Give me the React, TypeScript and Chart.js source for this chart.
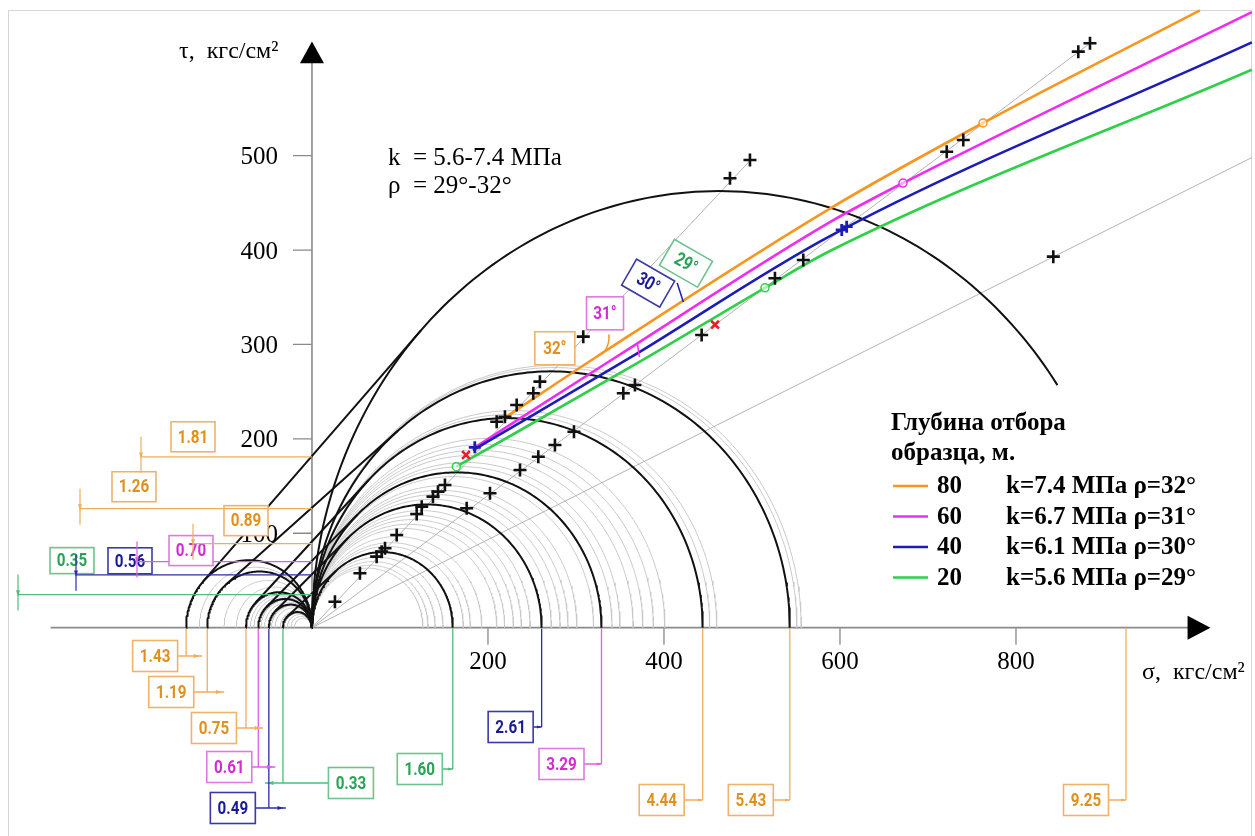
import React, { useEffect, useRef } from "react";
import { Chart, registerables } from "chart.js";

Chart.register(...registerables);

// ---------------- data (σ, τ in kgf/cm²; labels in MPa drawn at σ = 100·value) ----------------
const MPA_TO_PLOT = 100;
const compressionMPa = [1.6, 2.61, 3.29, 4.44, 5.43, 9.25];
const tensionMPa = [0.33, 0.49, 0.61, 0.75, 1.19, 1.43];
const cohesionMPa = [0.35, 0.56, 0.7, 0.89, 1.26, 1.81];
const pairColor = ["green", "blue", "magenta", "orange", "orange", "orange"];

const grayCompression = [126, 132, 140, 149, 172, 180, 193, 210, 219, 229, 238, 248, 272, 282, 291, 301, 320, 341, 350, 365, 376, 388, 401, 452, 460, 551, 556];
const grayTension = [20, 24, 28, 36, 42, 46, 54, 58, 66, 70, 86, 100, 128];

const orangeSigma = [217, 323.5, 588.6, 762.5, 1009];
const orangeTau = [221, 287, 444, 534.6, 654];
const magentaSigma = [187, 346, 588.6, 671.6, 1068];
const magentaTau = [192, 287, 429.6, 471, 652];
const blueSigma = [183, 361, 588.6, 1068];
const blueTau = [188, 285.7, 414.8, 620];
const greenSigma = [164, 376, 514.8, 588.6, 1068];
const greenTau = [170.5, 283.6, 360, 399, 591];

const raySigma = [1068, 884, 498];
const rayTau = [498, 619, 495];

const crossSigma = [26.1, 54.5, 73.5, 79.2, 83, 96.3, 119, 124.7, 137.5, 143.2, 151.1, 209.9, 219.3, 232.6, 251.5, 259, 308.3, 475, 497.7,
  175.8, 202.3, 236.4, 257.2, 276.1, 297.7, 353.8, 367, 442.8, 526.1, 558.3, 721.3, 740.1, 870.8, 884.1, 842.4];
const crossTau = [27.5, 57.6, 75.2, 80.5, 84.1, 98.2, 120.4, 128.2, 138.8, 144.1, 151.2, 218.2, 223.5, 235.9, 248.3, 260.6, 308.3, 476, 495.4,
  126.5, 142.4, 167, 181.1, 193.5, 207.6, 248.3, 257.1, 310, 370.1, 389.5, 504.2, 516.6, 610.2, 619.1, 393];
const redSigma = [175, 458];
const redTau = [183, 321];
const blueMarkSigma = [602, 607.6, 185];
const blueMarkTau = [421.3, 424.8, 191];

const depths = [80, 60, 40, 20];
const kValues = [7.4, 6.7, 6.1, 5.6];
const rhoValues = [32, 31, 30, 29];
const legendColors = ["orange", "magenta", "blue", "green"];
const yTicks = [100, 200, 300, 400, 500];
const xTicks = [200, 400, 600, 800];

// ---------------- styles / layout ----------------
const COLORS: Record<string, { line: string; text: string; border: string; lead: string }> = {
  orange: { line: "#f7961f", text: "#e0901c", border: "#eeb36a", lead: "#efae5c" },
  magenta: { line: "#f02cf0", text: "#d42ad4", border: "#e07ae0", lead: "#e25ce2" },
  blue: { line: "#1c1cb8", text: "#1a1a96", border: "#3a3aa6", lead: "#2c2caa" },
  green: { line: "#2fcf4a", text: "#27a455", border: "#6cc48e", lead: "#4cbf78" },
};
const X_MIN = -354.5, X_MAX = 1071.6, Y_MIN = -220.7, Y_MAX = 664.9;
const BIG_CUT = 852;
const SERIF = "'Liberation Serif', 'Times New Roman', serif";
// bottom labels: [yEnd px, box dx px, extension]
const tensionLayout = [[783, 68, 18], [808, -36, 17], [767, -29, 17], [728, -32, 17], [692, -36, 17], [656, -31, 16]];
const compressionLayout = [[769, -33, 0], [727, -31, 0], [764, -40, 0], [800, -41, 0], [800, -39, 0], [800, -40, 0]];
// cohesion labels: [xStart px, box dx, box dy, box h]
const cohesionLayout = [[18, 31, -34, 26], [76, 31, -14, 26], [137, 31, -11, 30], [193, 30, -23, 30], [80, 31, -22, 30], [141, 29, -20, 30]];

function circlePts(c: number, r: number, maxSigma = Infinity, n = 160) {
  const pts: { x: number; y: number }[] = [];
  for (let i = 0; i <= n; i++) {
    const th = Math.PI - (Math.PI * i) / n;
    const x = c + r * Math.cos(th);
    if (x > maxSigma) break;
    pts.push({ x, y: r * Math.sin(th) });
  }
  return pts;
}

function zip(a: number[], b: number[]) {
  return a.map((v, i) => ({ x: v, y: b[i] }));
}

function drawBox(ctx: CanvasRenderingContext2D, cx: number, cy: number, w: number, h: number, text: string, key: string, rot = 0, fs = 19) {
  const c = COLORS[key];
  ctx.save();
  ctx.translate(cx, cy);
  ctx.rotate(rot);
  ctx.fillStyle = "#fff";
  ctx.fillRect(-w / 2, -h / 2, w, h);
  ctx.strokeStyle = c.border;
  ctx.lineWidth = 1.6;
  ctx.strokeRect(-w / 2, -h / 2, w, h);
  ctx.scale(0.8, 1);
  ctx.font = `bold ${fs}px Roboto, 'DejaVu Sans', sans-serif`;
  ctx.fillStyle = c.text;
  ctx.textAlign = "center";
  ctx.textBaseline = "middle";
  ctx.fillText(text, 0, 1);
  ctx.restore();
}

function tri(ctx: CanvasRenderingContext2D, x: number, y: number, dir: "l" | "r" | "d", s = 5) {
  ctx.beginPath();
  if (dir === "r") { ctx.moveTo(x, y); ctx.lineTo(x - s * 1.6, y - s / 2); ctx.lineTo(x - s * 1.6, y + s / 2); }
  if (dir === "l") { ctx.moveTo(x, y); ctx.lineTo(x + s * 1.6, y - s / 2); ctx.lineTo(x + s * 1.6, y + s / 2); }
  if (dir === "d") { ctx.moveTo(x, y); ctx.lineTo(x - s / 2, y - s * 1.6); ctx.lineTo(x + s / 2, y - s * 1.6); }
  ctx.closePath();
  ctx.fill();
}

const axesPlugin = {
  id: "axesPlugin",
  beforeDatasetsDraw(chart: any) {
    const ctx: CanvasRenderingContext2D = chart.ctx;
    const X = (v: number) => chart.scales.x.getPixelForValue(v);
    const Y = (v: number) => chart.scales.y.getPixelForValue(v);
    ctx.save();
    // frame
    ctx.strokeStyle = "#d6d6d6";
    ctx.lineWidth = 1;
    ctx.strokeRect(8.5, 10.5, 1243, 840);
    ctx.strokeStyle = "#8a8a8a";
    ctx.lineWidth = 1.6;
    ctx.beginPath();
    ctx.moveTo(X(-297), Y(0));
    ctx.lineTo(X(1000), Y(0));
    ctx.moveTo(X(0), Y(0));
    ctx.lineTo(X(0), Y(600));
    ctx.stroke();
    ctx.lineWidth = 1.3;
    ctx.beginPath();
    yTicks.forEach((t) => { ctx.moveTo(X(0) - 19, Y(t)); ctx.lineTo(X(0), Y(t)); });
    xTicks.forEach((s) => { ctx.moveTo(X(s), Y(0)); ctx.lineTo(X(s), Y(0) + 17); });
    ctx.stroke();
    ctx.restore();
  },
};

const annotPlugin = {
  id: "annotPlugin",
  afterDatasetsDraw(chart: any) {
    const ctx: CanvasRenderingContext2D = chart.ctx;
    const X = (v: number) => chart.scales.x.getPixelForValue(v);
    const Y = (v: number) => chart.scales.y.getPixelForValue(v);
    ctx.save();
    // arrows on axes
    ctx.fillStyle = "#000";
    ctx.beginPath();
    ctx.moveTo(X(0), Y(621)); ctx.lineTo(X(0) - 12, Y(598)); ctx.lineTo(X(0) + 12, Y(598)); ctx.closePath(); ctx.fill();
    ctx.beginPath();
    ctx.moveTo(X(1021), Y(0)); ctx.lineTo(X(995), Y(0) - 12); ctx.lineTo(X(995), Y(0) + 12); ctx.closePath(); ctx.fill();

    // tick labels
    ctx.font = `25px ${SERIF}`;
    ctx.fillStyle = "#000";
    ctx.textAlign = "right";
    ctx.textBaseline = "middle";
    yTicks.forEach((t) => ctx.fillText(String(t), X(0) - 34, Y(t) + 2));
    ctx.textAlign = "center";
    ctx.textBaseline = "top";
    xTicks.forEach((s) => ctx.fillText(String(s), X(s), Y(0) + 22));

    // axis titles
    ctx.font = `24px ${SERIF}`;
    ctx.textAlign = "left";
    ctx.textBaseline = "middle";
    ctx.fillText("τ,  кгс/см²", 179, 52);
    ctx.fillText("σ,  кгс/см²", 1142, 673);
    ctx.font = `25px ${SERIF}`;
    ctx.fillText("k  = 5.6-7.4 МПа", 388, 158);
    ctx.fillText("ρ  = 29°-32°", 388, 186);

    // cohesion labels on the left
    cohesionMPa.forEach((v, i) => {
      const key = pairColor[i];
      const [xs, dx, dy, h] = cohesionLayout[i];
      const y = Y(v * MPA_TO_PLOT);
      ctx.strokeStyle = COLORS[key].lead;
      ctx.fillStyle = COLORS[key].lead;
      ctx.lineWidth = 1.2;
      ctx.beginPath();
      ctx.moveTo(xs, y); ctx.lineTo(X(0), y);
      ctx.moveTo(xs, y - 20); ctx.lineTo(xs, y + 16);
      ctx.stroke();
      tri(ctx, xs, y + 2, "d", 4);
      drawBox(ctx, xs + dx + 23, y + dy, 44, h, v.toFixed(2), key);
    });

    // bottom labels (tension and compression)
    const bottom = (vals: number[], sign: number, layout: number[][]) => {
      vals.forEach((v, i) => {
        const key = pairColor[i];
        const [yEnd, dx, ext] = layout[i];
        const lx = X(sign * v * MPA_TO_PLOT);
        ctx.strokeStyle = COLORS[key].lead;
        ctx.fillStyle = COLORS[key].lead;
        ctx.lineWidth = 1.3;
        ctx.beginPath();
        ctx.moveTo(lx, Y(0) + 1); ctx.lineTo(lx, yEnd);
        const bx = lx + dx;
        if (dx < 0) {
          ctx.moveTo(bx + 22, yEnd); ctx.lineTo(lx + ext, yEnd);
        } else {
          ctx.moveTo(bx - 22, yEnd); ctx.lineTo(lx - ext, yEnd);
        }
        ctx.stroke();
        if (ext > 0) tri(ctx, dx < 0 ? lx + ext - 2 : lx - ext + 2, yEnd, dx < 0 ? "r" : "l", 4);
        else tri(ctx, lx, yEnd, "r", 3);
        drawBox(ctx, bx, yEnd, 45, 31, v.toFixed(2), key);
      });
    };
    bottom(tensionMPa, -1, tensionLayout);
    bottom(compressionMPa, 1, compressionLayout);

    // angle boxes
    drawBox(ctx, X(276), Y(296), 40, 33, "32°", "orange", 0, 19);
    drawBox(ctx, X(333), Y(333), 37, 33, "31°", "magenta", 0, 19);
    drawBox(ctx, X(382), Y(365), 44, 30, "30°", "blue", Math.PI / 6, 19);
    drawBox(ctx, X(425), Y(386), 44, 30, "29°", "green", Math.PI / 6, 19);
    // small angle marks
    ctx.lineWidth = 1.5;
    ctx.strokeStyle = COLORS.orange.line;
    ctx.beginPath(); ctx.arc(X(308), Y(308), 26, -0.1, 0.55); ctx.stroke();
    ctx.strokeStyle = COLORS.blue.line;
    ctx.beginPath(); ctx.moveTo(X(415), Y(365)); ctx.lineTo(X(422), Y(345)); ctx.stroke();
    ctx.strokeStyle = COLORS.magenta.line;
    ctx.beginPath(); ctx.moveTo(X(370), Y(300)); ctx.lineTo(X(372), Y(287)); ctx.stroke();

    // legend
    ctx.font = `bold 25px ${SERIF}`;
    ctx.fillStyle = "#000";
    ctx.textAlign = "left";
    ctx.textBaseline = "middle";
    ctx.fillText("Глубина отбора", 891, 424);
    ctx.fillText("образца, м.", 891, 454);
    depths.forEach((d, i) => {
      const y = 486 + i * 30.5;
      ctx.strokeStyle = COLORS[legendColors[i]].line;
      ctx.lineWidth = 2.5;
      ctx.beginPath(); ctx.moveTo(893, y); ctx.lineTo(928, y); ctx.stroke();
      ctx.fillStyle = "#000";
      ctx.fillText(String(d), 937, y + 1);
      ctx.fillText(`k=${kValues[i].toFixed(1)} МПа ρ=${rhoValues[i]}°`, 1006, y + 1);
    });
    ctx.restore();
  },
};

export default function App() {
  const ref = useRef<HTMLCanvasElement | null>(null);
  useEffect(() => {
    document.body.style.margin = "0";
    document.body.style.overflow = "hidden";
    const canvas = ref.current!;
    const datasets: any[] = [];
    const line = (data: any[], color: string, width: number, order: number) => ({
      data, showLine: true, pointRadius: 0, borderColor: color, borderWidth: width, fill: false, order, tension: 0,
    });
    grayCompression.forEach((s) => datasets.push(line(circlePts(s / 2, s / 2), "#c9c9c9", 1, 20)));
    grayTension.forEach((s) => datasets.push(line(circlePts(-s / 2, s / 2), "#c9c9c9", 1, 20)));
    raySigma.forEach((s, i) => datasets.push(line([{ x: 0, y: 0 }, { x: s, y: rayTau[i] }], "#b4b4b4", 1, 18)));
    compressionMPa.forEach((v) => {
      const d = v * MPA_TO_PLOT;
      datasets.push(line(circlePts(d / 2, d / 2, BIG_CUT), "#111", 2, 15));
    });
    tensionMPa.forEach((v) => {
      const d = v * MPA_TO_PLOT;
      datasets.push(line(circlePts(-d / 2, d / 2), "#111", 2, 15));
    });
    // common tangents between paired tension and compression circles
    tensionMPa.forEach((t, i) => {
      const r1 = (t * MPA_TO_PLOT) / 2;
      const r2 = (compressionMPa[i] * MPA_TO_PLOT) / 2;
      const sin = (r2 - r1) / (r2 + r1);
      const cos = Math.sqrt(1 - sin * sin);
      datasets.push(line([{ x: -r1 - r1 * sin, y: r1 * cos }, { x: r2 - r2 * sin, y: r2 * cos }], "#111", 2, 14));
    });
    const curve = (s: number[], t: number[], key: string) => ({
      ...line(zip(s, t), COLORS[key].line, 2.6, 10), cubicInterpolationMode: "monotone",
    });
    datasets.push(curve(greenSigma, greenTau, "green"));
    datasets.push(curve(blueSigma, blueTau, "blue"));
    datasets.push(curve(magentaSigma, magentaTau, "magenta"));
    datasets.push(curve(orangeSigma, orangeTau, "orange"));
    datasets.push({ data: zip(crossSigma, crossTau), showLine: false, pointStyle: "cross", pointRadius: 6.5, borderColor: "#111", borderWidth: 2.6, order: 2 });
    datasets.push({ data: zip(redSigma, redTau), showLine: false, pointStyle: "crossRot", pointRadius: 5.5, borderColor: "#e8202a", borderWidth: 2.6, order: 1 });
    datasets.push({ data: zip(blueMarkSigma, blueMarkTau), showLine: false, pointStyle: "cross", pointRadius: 6, borderColor: "#1c1cb8", borderWidth: 2.8, order: 1 });
    const ring = (x: number, y: number, key: string) => ({
      data: [{ x, y }], showLine: false, pointStyle: "circle", pointRadius: 4, borderColor: COLORS[key].line, backgroundColor: "rgba(255,255,255,0.6)", borderWidth: 1.5, order: 1,
    });
    datasets.push(ring(orangeSigma[3], orangeTau[3], "orange"));
    datasets.push(ring(magentaSigma[3], magentaTau[3], "magenta"));
    datasets.push(ring(greenSigma[2], greenTau[2], "green"));
    datasets.push(ring(greenSigma[0], greenTau[0], "green"));

    const chart = new Chart(canvas, {
      type: "scatter",
      data: { datasets },
      options: {
        responsive: false,
        animation: false,
        events: [],
        layout: { padding: 0, autoPadding: false },
        plugins: { legend: { display: false }, tooltip: { enabled: false } },
        scales: {
          x: { type: "linear", min: X_MIN, max: X_MAX, display: false },
          y: { type: "linear", min: Y_MIN, max: Y_MAX, display: false },
        },
      },
      plugins: [axesPlugin, annotPlugin],
    } as any);
    return () => chart.destroy();
  }, []);
  return (
    <div style={{ width: 1255, height: 836, background: "#fff" }}>
      <canvas ref={ref} width={1255} height={836} style={{ display: "block" }} />
    </div>
  );
}
